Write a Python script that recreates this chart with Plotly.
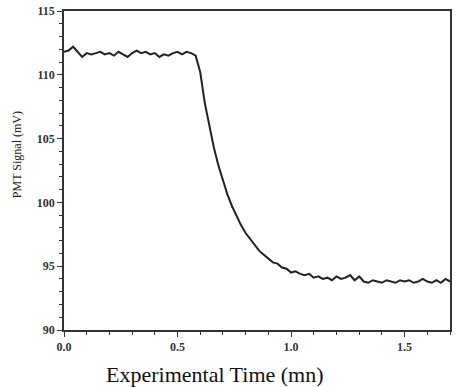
import plotly.graph_objects as go

time_mn = [round(i * 0.02, 2) for i in range(86)]
signal_mv = [
    111.8, 111.9, 112.2, 111.8, 111.4, 111.7, 111.6, 111.7, 111.8, 111.6,
    111.7, 111.5, 111.8, 111.6, 111.4, 111.7, 111.9, 111.7, 111.8, 111.6,
    111.7, 111.4, 111.6, 111.5, 111.7, 111.8, 111.6, 111.8, 111.7, 111.5,
    110.2, 107.8, 105.9, 104.3, 102.9, 101.7, 100.6, 99.7, 98.9, 98.2,
    97.6, 97.1, 96.6, 96.2, 95.9, 95.6, 95.3, 95.2, 94.9, 94.8,
    94.5, 94.6, 94.4, 94.3, 94.4, 94.1, 94.2, 94.0, 94.1, 93.9,
    94.2, 94.0, 94.1, 94.3, 93.9, 94.2, 93.8, 93.7, 93.9, 93.8,
    93.7, 93.9, 93.8, 93.7, 93.9, 93.8, 93.9, 93.7, 93.8, 94.0,
    93.8, 93.7, 93.9, 93.7, 94.0, 93.8,
]
x_ticks = [0.0, 0.5, 1.0, 1.5]
y_ticks = [90, 95, 100, 105, 110, 115]
x_title = "Experimental Time (mn)"
y_title = "PMT Signal (mV)"

fig = go.Figure()
fig.add_trace(go.Scatter(x=time_mn, y=signal_mv, mode="lines",
                         line=dict(color="#222222", width=2), showlegend=False))

font = "Liberation Serif, Times New Roman, serif"
tickfont = dict(size=12, family=font, color="#333333", weight="bold")
fig.update_layout(
    width=456, height=387,
    margin=dict(l=64, r=4, t=11, b=57),
    paper_bgcolor="white", plot_bgcolor="white",
    font=dict(family=font, color="#222222"),
    xaxis=dict(range=[0, 1.70], tickvals=x_ticks, tickformat=".1f",
               showline=True, linecolor="#333333", linewidth=1.5, mirror=True,
               ticks="outside", ticklen=5, tickcolor="#333333",
               minor=dict(dtick=0.1, ticks="outside", ticklen=3, tickcolor="#333333"),
               showgrid=False, zeroline=False, tickfont=tickfont),
    yaxis=dict(range=[90, 115], tickvals=y_ticks,
               showline=True, linecolor="#333333", linewidth=1.5, mirror=True,
               ticks="outside", ticklen=5, tickcolor="#333333",
               minor=dict(dtick=1, ticks="outside", ticklen=3, tickcolor="#333333"),
               showgrid=False, zeroline=False, tickfont=tickfont),
    annotations=[
        dict(text=x_title, xref="paper", yref="paper", x=0.392, y=-0.141,
             xanchor="center", yanchor="middle", showarrow=False,
             font=dict(size=22, family=font, color="#111111")),
        dict(text=y_title, xref="paper", yref="paper", x=-0.121, y=0.549,
             xanchor="center", yanchor="middle", showarrow=False, textangle=-90,
             font=dict(size=12, family=font, color="#222222")),
    ],
)
fig.write_html("out.html")
